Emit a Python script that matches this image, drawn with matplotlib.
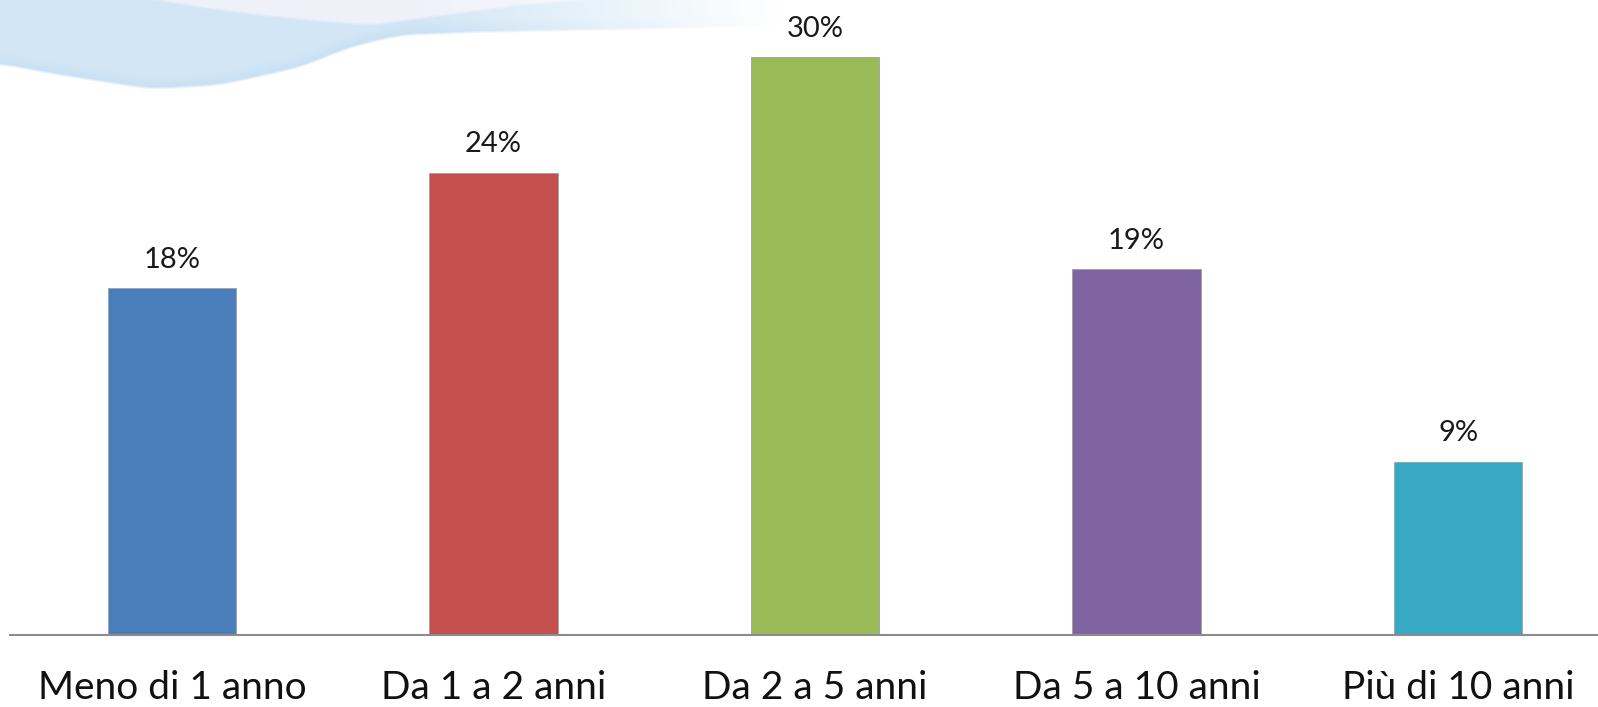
import numpy as np
import matplotlib
matplotlib.use("Agg")
import matplotlib.pyplot as plt

categories = ["Meno di 1 anno", "Da 1 a 2 anni", "Da 2 a 5 anni", "Da 5 a 10 anni", "Più di 10 anni"]
values = [18, 24, 30, 19, 9]
colors = ["#4A7EBB", "#C4504D", "#9BBB59", "#8064A2", "#37A9C4"]

plt.rcParams["font.family"] = ["Lato", "DejaVu Sans"]

W, H = 1598, 707
fig = plt.figure(figsize=(W / 100, H / 100), dpi=100)
fig.patch.set_facecolor("white")


def smooth(a, k=25):
    ker = np.hanning(k)
    ker /= ker.sum()
    pad = np.pad(a, k, mode="edge")
    return np.convolve(pad, ker, mode="same")[k:-k]


# Soft decorative wave in the top-left corner, built as an RGBA image
bg = fig.add_axes([0, 0, 1, 1], zorder=0)
bg.axis("off")
cols = np.arange(W)
lower = smooth(np.interp(cols, [0, 60, 150, 220, 300, 350, 400, 480, 640, 800],
                         [65, 76, 90, 86, 68, 48, 36, 33, 30, 26]), 61)
upper = smooth(np.interp(cols, [0, 140, 200, 260, 320, 370, 430, 520, 640],
                         [-5, -2, 8, 16, 22, 26, 18, 6, -4]), 41)
yy = np.arange(H)[:, None]
inside = np.clip((lower[None, :] - yy) / 3.0, 0, 1)
fade = np.clip((780 - cols) / 360.0, 0, 1)[None, :]
alpha = inside * fade * 0.85
band = np.clip((upper[None, :] - yy) / 3.0, 0, 1) * (cols[None, :] > 120)
rgba = np.zeros((H, W, 4))
base = np.array([0.80, 0.89, 0.96])
light = np.array([0.93, 0.94, 0.98])
mix = band[..., None]
rgba[..., :3] = base * (1 - mix) + light * mix
# slightly deeper tint along the lower edge of the wave
edge = np.exp(-((lower[None, :] - yy) / 10.0) ** 2)
rgba[..., :3] -= 0.05 * edge[..., None] * np.array([1, 0.6, 0.2])
rgba[..., 3] = alpha
bg.imshow(rgba, extent=[0, W, H, 0], aspect="auto", interpolation="bilinear")
bg.set_xlim(0, W)
bg.set_ylim(H, 0)

ax = fig.add_axes([10 / W, 72 / H, (W - 10) / W, 635 / H], zorder=1)
ax.patch.set_alpha(0)
x = np.arange(len(categories))
ax.bar(x, values, width=0.4, color=colors, edgecolor="#a0a0a0", linewidth=0.6)
ax.set_xlim(-0.504, 4.435)
ax.set_ylim(0, 32.97)

for xi, v in zip(x, values):
    ax.text(xi, v + 0.8, f"{v}%", ha="center", va="bottom", fontsize=21, color="#1a1a1a")

for s in ["top", "right", "left"]:
    ax.spines[s].set_visible(False)
ax.spines["bottom"].set_color("#8c8c8c")
ax.spines["bottom"].set_linewidth(1.5)
ax.set_yticks([])
ax.set_xticks(x)
ax.set_xticklabels(categories, fontsize=28, color="#111111")
ax.tick_params(axis="x", length=0, pad=25)

fig.savefig("out.png", dpi=100, facecolor=fig.get_facecolor())
